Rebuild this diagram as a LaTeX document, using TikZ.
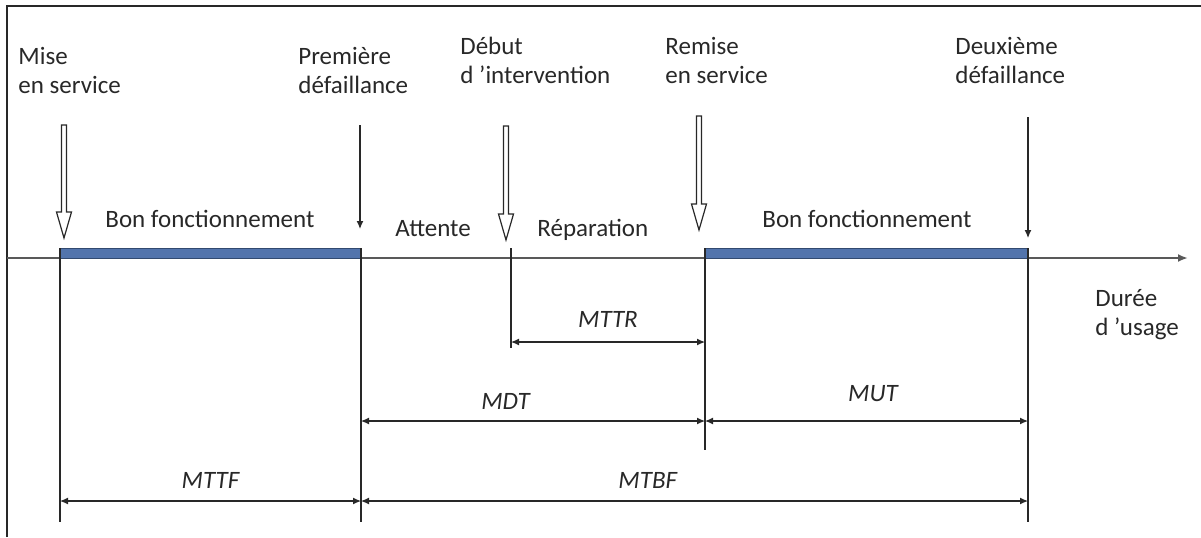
\documentclass[tikz,border=0pt]{standalone}
\usepackage{fontspec}
\setmainfont{Carlito}
\usetikzlibrary{arrows.meta}

\definecolor{barblue}{RGB}{82,116,172}
\definecolor{bardark}{RGB}{50,74,112}
\definecolor{ink}{RGB}{40,40,40}

\tikzset{
	txt/.style={text=ink, font=\fontsize{12.5}{14.5}\selectfont, inner sep=0pt},
	lbl/.style={txt, font=\fontsize{12.5}{14.5}\selectfont\itshape},
	tick/.style={line width=0.6pt, draw=ink},
	dim/.style={tick, {Latex[length=4pt,width=3.5pt]}-{Latex[length=4pt,width=3.5pt]}},
	fail/.style={tick, -{Latex[length=4pt,width=3.5pt]}},
	hollow/.style={draw=ink, line width=0.6pt, fill=white},
	busy/.style={draw=bardark, fill=barblue, line width=0.5pt}
}

% open arrow: x, top y, tip y
\newcommand{\hollowarrow}[3]{%
	\draw [hollow] (#1-2.5,#2) -- (#1+2.5,#2) -- (#1+2.5,#3-26) -- (#1+7.5,#3-26) -- (#1,#3) -- (#1-7.5,#3-26) -- (#1-2.5,#3-26) -- cycle;
}

\begin{document}
\begin{tikzpicture}[x=0.5pt, y=-0.5pt]
		\useasboundingbox (0,0) rectangle (1201,537);
		% frame (left and top edges only)
		\draw [line width=1pt, ink] (7,537) -- (7,6) -- (1201,6);
		% events on the time axis
		\coordinate (start) at (60,258);
		\coordinate (fail1) at (361,258);
		\coordinate (inter) at (511,258);
		\coordinate (back) at (705,258);
		\coordinate (fail2) at (1028,258);
		\coordinate (axisL) at (7,258);
		\coordinate (axisR) at (1188,258);
		% heights of the dimension lines
		\coordinate (rowR) at (0,342);
		\coordinate (rowRend) at (0,348);
		\coordinate (rowD) at (0,421);
		\coordinate (rowDend) at (0,450);
		\coordinate (rowF) at (0,501);
		\coordinate (foot) at (0,522);
		\draw [-{Latex[length=5pt,width=4pt]}, line width=1.1pt, gray!70!black] (axisL) -- (axisR);
		% up periods
		\draw [busy] (start) rectangle ([yshift=5pt]fail1);
		\draw [busy] (back) rectangle ([yshift=5pt]fail2);
		% verticals below the axis
		\draw [tick] ([yshift=5pt]start) -- (start |- foot);
		\draw [tick] ([yshift=5pt]fail1) -- (fail1 |- foot);
		\draw [tick] ([yshift=5pt]inter) -- (inter |- rowRend);
		\draw [tick] ([yshift=5pt]back) -- (back |- rowDend);
		\draw [tick] ([yshift=5pt]fail2) -- (fail2 |- foot);
		% failures: plain arrows, services: open arrows
		\draw [fail] ([xshift=-0.5pt, yshift=66.5pt]fail1) -- ([xshift=-0.5pt, yshift=14.5pt]fail1);
		\draw [fail] ([yshift=70.5pt]fail2) -- ([yshift=10pt]fail2);
		\hollowarrow{64}{125}{238}
		\hollowarrow{506}{126}{240}
		\hollowarrow{699}{116}{230}
		% event labels
		\node [txt, align=left, anchor=north west] (lmise) at (18,47) {Mise\\en service};
		\node [txt, align=left, anchor=north west] (lfail1) at (298,47) {Première\\défaillance};
		\node [txt, align=left, anchor=north west] (linter) at (460,37) {Début\\d ’intervention};
		\node [txt, align=left, anchor=north west] (lback) at (665,37) {Remise\\en service};
		\node [txt, align=left, anchor=north west] (lfail2) at (955,37) {Deuxième\\défaillance};
		\node [txt, align=left, anchor=north west] (lusage) at (1095,289) {Durée\\d ’usage};
		% state labels
		\node [txt, anchor=base west] (lup1) at (105,227) {Bon fonctionnement};
		\node [txt, anchor=base west] (lwait) at (395,236) {Attente};
		\node [txt, anchor=base west] (lrep) at (537,236) {Réparation};
		\node [txt, anchor=base west] (lup2) at (762,227) {Bon fonctionnement};
		% mean times
		\draw [dim] (inter |- rowR) -- (back |- rowR) node [lbl, pos=0.5, anchor=base, yshift=7.5pt] (mttr) {MTTR};
		\draw [dim] (fail1 |- rowD) -- (back |- rowD) node [lbl, pos=0.42, anchor=base, yshift=6pt] (mdt) {MDT};
		\draw [dim] (back |- rowD) -- (fail2 |- rowD) node [lbl, pos=0.52, anchor=base, yshift=10pt] (mut) {MUT};
		\draw [dim] (start |- rowF) -- (fail1 |- rowF) node [lbl, pos=0.5, anchor=base, yshift=6.5pt] (mttf) {MTTF};
		\draw [dim] (fail1 |- rowF) -- (fail2 |- rowF) node [lbl, pos=0.43, anchor=base, yshift=6.5pt] (mtbf) {MTBF};
	\end{tikzpicture}
\end{document}
